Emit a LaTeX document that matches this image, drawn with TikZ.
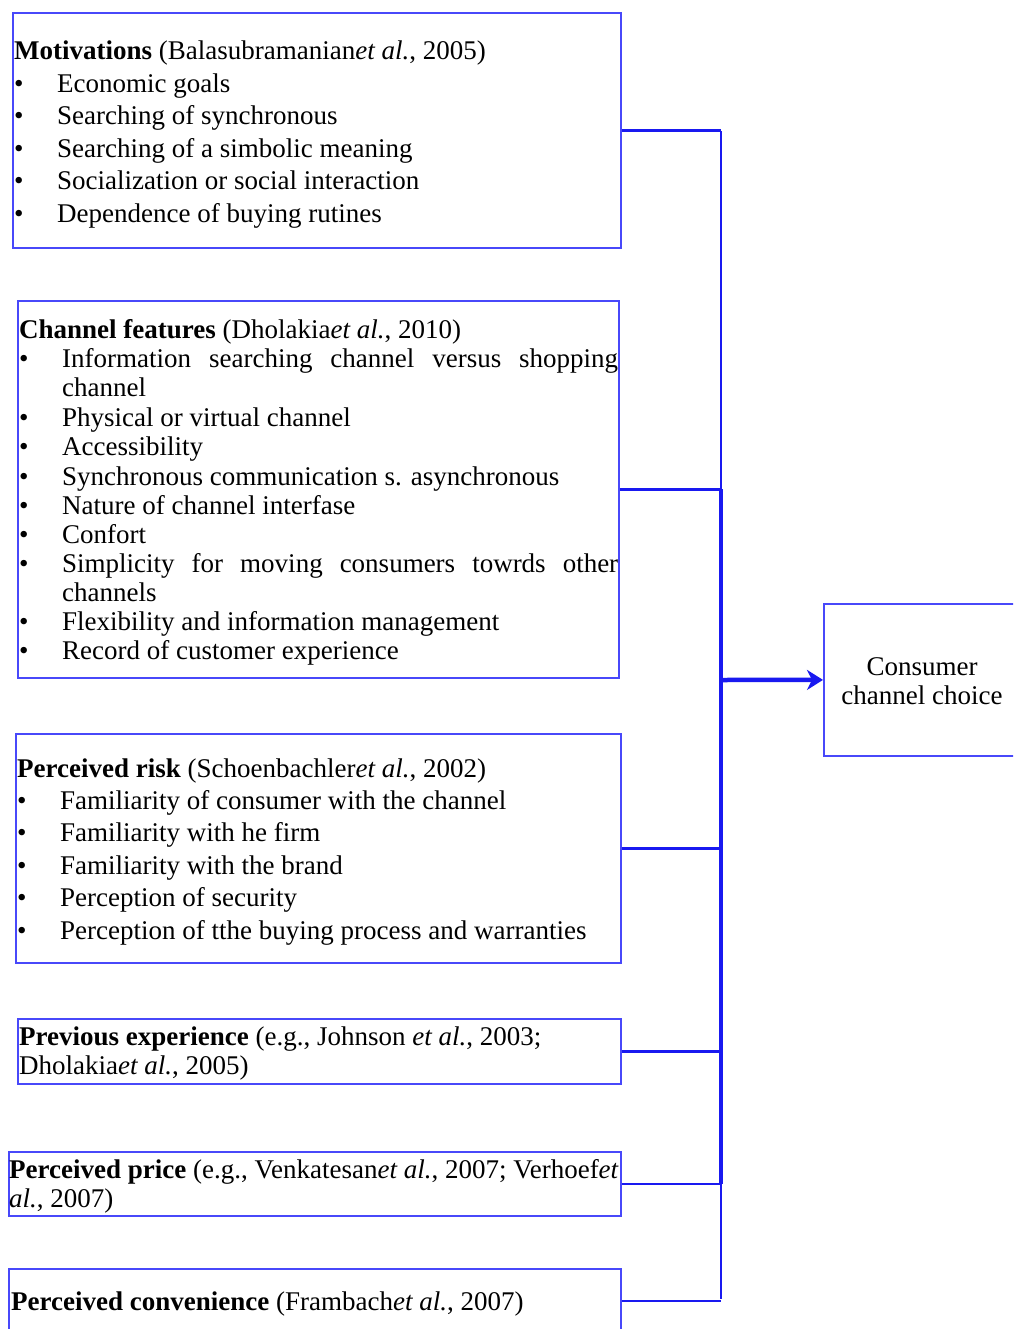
\documentclass[tikz,border=0pt]{standalone}
\usepackage{fontspec}
\setmainfont{Liberation Serif}
\usetikzlibrary{arrows.meta}
\definecolor{boxblue}{RGB}{72,72,250}
\definecolor{linkblue}{RGB}{25,25,240}
\begin{document}
\begin{tikzpicture}[x=1pt,y=-1pt,
  box/.style={draw=boxblue, line width=1.8pt, rectangle, inner sep=0pt, anchor=north west},
  txt/.style={anchor=base west, inner sep=0pt, font=\fontsize{27}{29}\selectfont},
  ctxt/.style={anchor=base, inner sep=0pt, font=\fontsize{27}{29}\selectfont},
  link/.style={draw=linkblue, line width=2.3pt},
  arrowlink/.style={draw=linkblue, line width=4.5pt, -{Stealth[length=16pt,width=20pt,inset=5pt]}},
]
\clip (0,0) rectangle (1013,1329);
\fill[white] (0,0) rectangle (1013,1329);

% boxes
\node[box, minimum width=608pt, minimum height=235pt] (b1) at (12,12) {};
\node[box, minimum width=601pt, minimum height=377pt] (b2) at (17,300) {};
\node[box, minimum width=605pt, minimum height=229pt] (b3) at (15,733) {};
\node[box, minimum width=603pt, minimum height=65pt] (b4) at (17,1018) {};
\node[box, minimum width=612pt, minimum height=64pt] (b5) at (8,1151) {};
\node[box, minimum width=612pt, minimum height=64pt] (b6) at (8,1268) {};
\node[box, minimum width=200pt, minimum height=152pt] (cons) at (823,603) {};

% box 1
\node[txt] (h1) at (14,60) {\textbf{Motivations} (Balasubramanian\textit{et al.}, 2005)};
\foreach \t [count=\i] in {Economic goals, Searching of synchronous, Searching of a simbolic meaning, Socialization or social interaction, Dependence of buying rutines} {
  \node[txt] (d1\i) at (14, 60+32.5*\i) {•};
  \node[txt] (t1\i) at (57, 60+32.5*\i) {\t};
}

% box 2
\node[txt] (h2) at (19,338) {\textbf{Channel features} (Dholakia\textit{et al.}, 2010)};
\node[txt] (d21) at (19,367) {•};
\node[txt] (t21) at (62,367) {\makebox[556pt][s]{Information searching channel versus shopping}};
\node[txt] (t21b) at (62,396) {channel};
\node[txt] (d22) at (19,426) {•};
\node[txt] (t22) at (62,426) {Physical or virtual channel};
\node[txt] (d23) at (19,455) {•};
\node[txt] (t23) at (62,455) {Accessibility};
\node[txt] (d24) at (19,485) {•};
\node[txt] (t24) at (62,485) {Synchronous communication s. asynchronous};
\node[txt] (d25) at (19,514) {•};
\node[txt] (t25) at (62,514) {Nature of channel interfase};
\node[txt] (d26) at (19,543) {•};
\node[txt] (t26) at (62,543) {Confort};
\node[txt] (d27) at (19,572) {•};
\node[txt] (t27) at (62,572) {\makebox[556pt][s]{Simplicity for moving consumers towrds other}};
\node[txt] (t27b) at (62,601) {channels};
\node[txt] (d28) at (19,630) {•};
\node[txt] (t28) at (62,630) {Flexibility and information management};
\node[txt] (d29) at (19,659) {•};
\node[txt] (t29) at (62,659) {Record of customer experience};

% box 3
\node[txt] (h3) at (17,777) {\textbf{Perceived risk} (Schoenbachler\textit{et al.}, 2002)};
\foreach \t [count=\i] in {Familiarity of consumer with the channel, Familiarity with he firm, Familiarity with the brand, Perception of security, Perception of tthe buying process and warranties} {
  \node[txt] (d3\i) at (17, 777+32.4*\i) {•};
  \node[txt] (t3\i) at (60, 777+32.4*\i) {\t};
}

% box 4
\node[txt] (h4) at (19,1045) {\textbf{Previous experience} (e.g., Johnson \textit{et al.}, 2003;};
\node[txt] (h4b) at (19,1074) {Dholakia\textit{et al.}, 2005)};

% box 5
\node[txt] (h5) at (9,1178) {\textbf{Perceived price} (e.g., Venkatesan\textit{et al.}, 2007; Verhoef\textit{et}};
\node[txt] (h5b) at (9,1207) {\textit{al.}, 2007)};

% box 6
\node[txt] (h6) at (11,1310) {\textbf{Perceived convenience} (Frambach\textit{et al.}, 2007)};

% consumer
\node[ctxt] (c1) at (922,675) {Consumer};
\node[ctxt] (c2) at (922,704) {channel choice};

% connectors
\coordinate (jtop) at (721,130);
\coordinate (jbot) at (721,1300);
\coordinate (jmid) at (721,680);
\draw[link] (b1.east) -- (b1.east -| jtop);
\draw[link] (b2.east) -- (b2.east -| jtop);
\draw[link] (b3.east) -- (b3.east -| jtop);
\draw[link] (b4.east) -- (b4.east -| jtop);
\draw[link] (b5.east) -- (b5.east -| jtop);
\draw[link] (b6.east) -- (b6.east -| jtop);
\draw[link] ([yshift=-1.1pt]jtop) -- ([yshift=1.1pt]jbot);
\draw[link, line width=3.2pt] (b2.east -| jtop) -- (b5.east -| jtop);
\draw[arrowlink] (jmid) -- (cons.west);
\end{tikzpicture}
\end{document}
